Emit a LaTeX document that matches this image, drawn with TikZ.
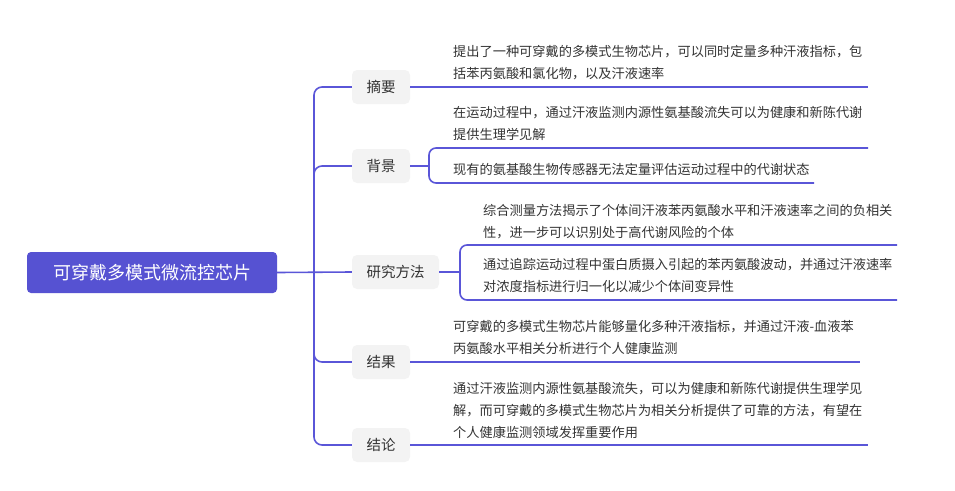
\documentclass[tikz,border=0pt]{standalone}
\usepackage{fontspec}
\setmainfont{Noto Sans CJK SC}
\definecolor{lineblue}{RGB}{90,86,216}
\definecolor{rootfill}{RGB}{86,82,210}
\definecolor{labelfill}{RGB}{243,243,243}
\definecolor{txt}{RGB}{51,51,51}
\begin{document}
\begin{tikzpicture}[x=1pt,y=-1pt,
  conn/.style={draw=lineblue,line width=1.6pt,rounded corners=8pt},
  bracket/.style={conn,rounded corners=7pt},
  rootbox/.style={fill=rootfill,rounded corners=4pt,text=white,font=\fontsize{18}{18}\selectfont,minimum width=250pt,minimum height=41pt,inner sep=0pt},
  topic/.style={fill=labelfill,rounded corners=5pt,text=txt,font=\fontsize{14.5}{14.5}\selectfont,minimum height=34pt,inner xsep=14.5pt,inner ysep=0pt},
  leaf/.style={text=txt,font=\fontsize{13.2}{22}\selectfont,text width=440pt,align=left,anchor=base west,inner sep=0pt}]
\useasboundingbox (0,0) rectangle (955,490);
% root and topics
\node[rootbox] (root) at (152,272.5) {可穿戴多模式微流控芯片};
\node[topic] (zy) at (381,87) {摘要};
\node[topic] (bj) at (381,166) {背景};
\node[topic] (yj) at (395.5,272) {研究方法};
\node[topic] (jg) at (381,362) {结果};
\node[topic] (jl) at (381,445) {结论};
% junction and ends
\coordinate (J) at (314,272);
\coordinate (bjB) at (429,166);
\coordinate (yjB) at (460,272);
\coordinate (zyE) at (868,87);
\coordinate (bjE1) at (868,148);
\coordinate (bjE2) at (814,183);
\coordinate (yjE1) at (897,245);
\coordinate (yjE2) at (897,300);
\coordinate (jgE) at (860,362);
\coordinate (jlE) at (868,445);
% trunk
\draw[conn] (root.east) -- (yj.west);
\draw[conn] (J) |- (zy.west);
\draw[conn] (J) |- (bj.west);
\draw[conn] (J) |- (jg.west);
\draw[conn] (J) |- (jl.west);
% branches
\draw[conn] (zy.east) -- (zyE);
\draw[conn] (bj.east) -- (bjB);
\draw[bracket] (bjB) |- (bjE1);
\draw[bracket] (bjB) |- (bjE2);
\draw[conn] (yj.east) -- (yjB);
\draw[bracket] (yjB) |- (yjE1);
\draw[bracket] (yjB) |- (yjE2);
\draw[conn] (jg.east) -- (jgE);
\draw[conn] (jl.east) -- (jlE);
% leaves
\node[leaf] (zyT) at (453,56.5) {提出了一种可穿戴的多模式生物芯片，可以同时定量多种汗液指标，包\\括苯丙氨酸和氯化物，以及汗液速率};
\node[leaf] (bjT1) at (453,117) {在运动过程中，通过汗液监测内源性氨基酸流失可以为健康和新陈代谢\\提供生理学见解};
\node[leaf] (bjT2) at (453,174) {现有的氨基酸生物传感器无法定量评估运动过程中的代谢状态};
\node[leaf] (yjT1) at (483,215) {综合测量方法揭示了个体间汗液苯丙氨酸水平和汗液速率之间的负相关\\性，进一步可以识别处于高代谢风险的个体};
\node[leaf] (yjT2) at (483,269) {通过追踪运动过程中蛋白质摄入引起的苯丙氨酸波动，并通过汗液速率\\对浓度指标进行归一化以减少个体间变异性};
\node[leaf] (jgT) at (453,331) {可穿戴的多模式生物芯片能够量化多种汗液指标，并通过汗液-血液苯\\丙氨酸水平相关分析进行个人健康监测};
\node[leaf] (jlT) at (453,393) {通过汗液监测内源性氨基酸流失，可以为健康和新陈代谢提供生理学见\\解，而可穿戴的多模式生物芯片为相关分析提供了可靠的方法，有望在\\个人健康监测领域发挥重要作用};
\end{tikzpicture}
\end{document}
